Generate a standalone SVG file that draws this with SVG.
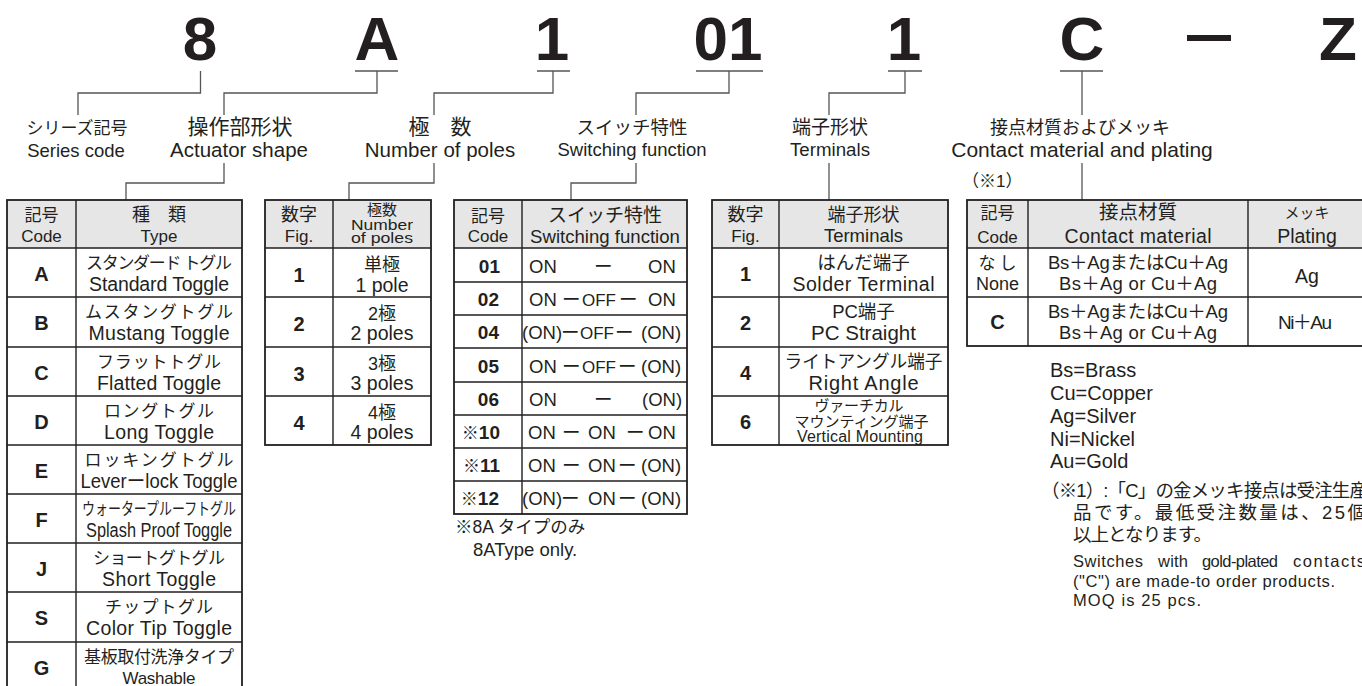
<svg xmlns="http://www.w3.org/2000/svg" width="1362" height="686" viewBox="0 0 1362 686">
<style>
text{font-family:"Liberation Sans","Noto Sans CJK JP",sans-serif;fill:#231f20}
.m{text-anchor:middle}
.e{text-anchor:end}
.b{font-weight:bold}
.big{font-size:62px;font-weight:bold;text-anchor:middle}
.conn{fill:none;stroke:#555;stroke-width:1.3}
.frame{fill:none;stroke:#231f20;stroke-width:1.8}
.ln{stroke:#231f20;stroke-width:1.4;fill:none}
.hd{fill:#e6e6e6}
.h1{font-size:17px}
.code{font-size:20px;font-weight:bold;text-anchor:middle}
.jr{font-size:17px;text-anchor:middle}
.er{font-size:19.5px;text-anchor:middle}
.fn{font-size:18.5px}
.off{font-size:17px}
.sc{font-size:19px;font-weight:bold;text-anchor:end}
</style>

<!-- header code -->
<g id="code-header">
<text class="big" x="200" y="60">8</text>
<text class="big" x="377" y="60">A</text>
<text class="big" x="552" y="60">1</text>
<text class="big" x="728" y="60">01</text>
<text class="big" x="904" y="60">1</text>
<text class="big" x="1082" y="60">C</text>
<text class="big" x="1209" y="54" textLength="44" lengthAdjust="spacingAndGlyphs">—</text>
<text class="big" x="1338" y="60">Z</text>
</g>

<!-- labels -->
<g id="label-series">
<text class="m" x="77" y="134" font-size="17">シリーズ記号</text>
<text class="m" x="76" y="157" font-size="18.5">Series code</text>
</g>
<g id="label-actuator">
<text class="m" x="240" y="134" font-size="21">操作部形状</text>
<text class="m" x="239" y="157" font-size="20.5">Actuator shape</text>
</g>
<g id="label-poles">
<text class="m" x="440" y="134" font-size="21">極　数</text>
<text class="m" x="440" y="157" font-size="20.5">Number of poles</text>
</g>
<g id="label-switching">
<text class="m" x="632" y="134" font-size="18.5">スイッチ特性</text>
<text class="m" x="632" y="156" font-size="18.5">Switching function</text>
</g>
<g id="label-terminals">
<text class="m" x="830" y="134" font-size="19">端子形状</text>
<text class="m" x="830" y="156" font-size="18.7">Terminals</text>
</g>
<g id="label-contact">
<text class="m" x="1080" y="134" font-size="18">接点材質およびメッキ</text>
<text class="m" x="1082" y="157" font-size="21">Contact material and plating</text>
<text x="962" y="187" font-size="17">（※1）</text>
</g>

<!-- connectors -->
<g id="connectors">
<path class="conn" d="M355,71H398M537,71H570M696,71H763M888,71H922M1060,71H1103"/>
<path class="conn" d="M200.5,71V93H78V115"/>
<path class="conn" d="M377,71V93H224V115"/>
<path class="conn" d="M553,71V93H434V115"/>
<path class="conn" d="M729,71V93H636V115"/>
<path class="conn" d="M905,71V93H829V115"/>
<path class="conn" d="M1082,71V115"/>
<path class="conn" d="M224,163V183H126V200"/>
<path class="conn" d="M434,163V183H349V200"/>
<path class="conn" d="M636,163V183H571V200"/>
<path class="conn" d="M829,163V200"/>
<path class="conn" d="M1082,163V200"/>
</g>

<!-- table 1: actuator type -->
<g id="table-actuator">
<rect class="hd" x="7" y="200" width="235" height="48"/>
<path class="ln" d="M76,200V700M7,248H242M7,297H242M7,347H242M7,396H242M7,445H242M7,494H242M7,543H242M7,592H242M7,642H242"/>
<rect class="frame" x="7" y="200" width="235" height="500"/>
<text class="m h1" x="41.5" y="221">記号</text>
<text class="m h1" x="41.5" y="242">Code</text>
<text class="m" x="159" y="221" font-size="18">種　類</text>
<text class="m h1" x="159" y="242">Type</text>

<text class="code" x="41.5" y="281">A</text>
<text class="jr" x="159" y="269" textLength="146">スタンダード トグル</text>
<text class="er" x="159" y="291" textLength="140">Standard Toggle</text>

<text class="code" x="41.5" y="330">B</text>
<text class="jr" x="159" y="318" textLength="148">ムスタングトグル</text>
<text class="er" x="159" y="340" textLength="141">Mustang Toggle</text>

<text class="code" x="41.5" y="380">C</text>
<text class="jr" x="159" y="368" textLength="124">フラットトグル</text>
<text class="er" x="159" y="390" textLength="124">Flatted Toggle</text>

<text class="code" x="41.5" y="429">D</text>
<text class="jr" x="159" y="417" textLength="110">ロングトグル</text>
<text class="er" x="159" y="439" textLength="110">Long Toggle</text>

<text class="code" x="41.5" y="478">E</text>
<text class="jr" x="159" y="466" textLength="149">ロッキングトグル</text>
<text class="er" x="159" y="488" textLength="157" lengthAdjust="spacingAndGlyphs">Leverーlock Toggle</text>

<text class="code" x="41.5" y="527">F</text>
<text class="jr" x="159" y="515" textLength="154" lengthAdjust="spacingAndGlyphs">ウォータープルーフトグル</text>
<text class="er" x="159" y="537" textLength="146" lengthAdjust="spacingAndGlyphs">Splash Proof Toggle</text>

<text class="code" x="41.5" y="576">J</text>
<text class="jr" x="159" y="564" textLength="132">ショートグトグル</text>
<text class="er" x="159" y="586" textLength="114">Short Toggle</text>

<text class="code" x="41.5" y="625">S</text>
<text class="jr" x="159" y="613" textLength="108">チップトグル</text>
<text class="er" x="159" y="635" textLength="146">Color Tip Toggle</text>

<text class="code" x="41.5" y="675">G</text>
<text class="jr" x="159" y="663" textLength="150">基板取付洗浄タイプ</text>
<text class="m" x="159" y="684" font-size="17" textLength="73">Washable</text>
</g>

<!-- table 2: poles -->
<g id="table-poles">
<rect class="hd" x="265" y="200" width="166" height="48"/>
<path class="ln" d="M333,200V445M265,248H431M265,297H431M265,347H431M265,396H431"/>
<rect class="frame" x="265" y="200" width="166" height="245"/>
<text class="m" x="299" y="221" font-size="18">数字</text>
<text class="m h1" x="299" y="242">Fig.</text>
<text class="m" x="382" y="215" font-size="15">極数</text>
<text class="m" x="382" y="230" font-size="15" textLength="62" lengthAdjust="spacingAndGlyphs">Number</text>
<text class="m" x="382" y="243" font-size="15" textLength="62" lengthAdjust="spacingAndGlyphs">of poles</text>

<text class="code" x="299" y="282">1</text>
<text class="m" x="382" y="271" font-size="18">単極</text>
<text class="er" x="382" y="292">1 pole</text>

<text class="code" x="299" y="331">2</text>
<text class="m" x="382" y="320" font-size="18">2極</text>
<text class="er" x="382" y="340">2 poles</text>

<text class="code" x="299" y="381">3</text>
<text class="m" x="382" y="370" font-size="18">3極</text>
<text class="er" x="382" y="390">3 poles</text>

<text class="code" x="299" y="430">4</text>
<text class="m" x="382" y="419" font-size="18">4極</text>
<text class="er" x="382" y="439">4 poles</text>
</g>

<!-- table 3: switching function -->
<g id="table-switching">
<rect class="hd" x="454" y="200" width="233" height="48"/>
<path class="ln" d="M522,200V514M454,248H687M454,282H687M454,315H687M454,348H687M454,382H687M454,415H687M454,448H687M454,481H687"/>
<rect class="frame" x="454" y="200" width="233" height="314"/>
<text class="m h1" x="488" y="222">記号</text>
<text class="m h1" x="488" y="242">Code</text>
<text class="m" x="605" y="222" font-size="19">スイッチ特性</text>
<text class="m" x="605" y="243" font-size="18.6">Switching function</text>

<text class="sc" x="500" y="273">01</text>
<text class="fn" y="273"><tspan x="529">ON</tspan><tspan x="594">ー</tspan><tspan x="648">ON</tspan></text>

<text class="sc" x="499" y="306">02</text>
<text class="fn" y="306"><tspan x="529">ON</tspan><tspan x="562">ー</tspan><tspan class="off" x="582">OFF</tspan><tspan x="619">ー</tspan><tspan x="648">ON</tspan></text>

<text class="sc" x="499" y="339">04</text>
<text class="fn" y="339"><tspan x="522">(ON)</tspan><tspan x="561">ー</tspan><tspan class="off" x="580">OFF</tspan><tspan x="615">ー</tspan><tspan x="641">(ON)</tspan></text>

<text class="sc" x="499" y="373">05</text>
<text class="fn" y="373"><tspan x="529">ON</tspan><tspan x="562">ー</tspan><tspan class="off" x="582">OFF</tspan><tspan x="618">ー</tspan><tspan x="641">(ON)</tspan></text>

<text class="sc" x="499" y="406">06</text>
<text class="fn" y="406"><tspan x="529">ON</tspan><tspan x="594">ー</tspan><tspan x="642">(ON)</tspan></text>

<text class="sc" x="500" y="439"><tspan font-weight="normal" font-size="17">※</tspan>10</text>
<text class="fn" y="439"><tspan x="528">ON</tspan><tspan x="562">ー</tspan><tspan x="588">ON</tspan><tspan x="626">ー</tspan><tspan x="648">ON</tspan></text>

<text class="sc" x="500" y="472"><tspan font-weight="normal" font-size="17">※</tspan>11</text>
<text class="fn" y="472"><tspan x="528">ON</tspan><tspan x="562">ー</tspan><tspan x="588">ON</tspan><tspan x="618">ー</tspan><tspan x="641">(ON)</tspan></text>

<text class="sc" x="499" y="505"><tspan font-weight="normal" font-size="17">※</tspan>12</text>
<text class="fn" y="505"><tspan x="522">(ON)</tspan><tspan x="561">ー</tspan><tspan x="588">ON</tspan><tspan x="618">ー</tspan><tspan x="641">(ON)</tspan></text>

<text x="455" y="533" font-size="17.5">※8A タイプのみ</text>
<text x="473" y="556" font-size="18.5">8AType only.</text>
</g>

<!-- table 4: terminals -->
<g id="table-terminals">
<rect class="hd" x="712" y="200" width="236" height="48"/>
<path class="ln" d="M779,200V445M712,248H948M712,297H948M712,347H948M712,396H948"/>
<rect class="frame" x="712" y="200" width="236" height="245"/>
<text class="m" x="745.5" y="221" font-size="18">数字</text>
<text class="m h1" x="745.5" y="242">Fig.</text>
<text class="m" x="863.5" y="221" font-size="18">端子形状</text>
<text class="m" x="863.5" y="242" font-size="18.5">Terminals</text>

<text class="code" x="745.5" y="281">1</text>
<text class="m" x="863.5" y="269" font-size="18.5">はんだ端子</text>
<text class="er" x="863.5" y="291" textLength="142">Solder Terminal</text>

<text class="code" x="745.5" y="330">2</text>
<text class="m" x="863.5" y="318" font-size="18.5">PC端子</text>
<text class="m" x="863.5" y="340" font-size="20.5">PC Straight</text>

<text class="code" x="745.5" y="380">4</text>
<text class="m" x="863.5" y="368" font-size="18" textLength="158" lengthAdjust="spacingAndGlyphs">ライトアングル端子</text>
<text class="m" x="863.5" y="390" font-size="20" textLength="110">Right Angle</text>

<text class="code" x="745.5" y="429">6</text>
<text class="m" x="859" y="411" font-size="15" textLength="89">ヴァーチカル</text>
<text class="m" x="861.5" y="427" font-size="15" textLength="134">マウンティング端子</text>
<text class="m" x="860" y="442" font-size="16" textLength="126">Vertical Mounting</text>
</g>

<!-- table 5: contact material -->
<g id="table-contact">
<rect class="hd" x="967" y="200" width="401" height="48"/>
<path class="ln" d="M1028,200V346M1248,200V346M967,248H1368M967,297H1368"/>
<rect class="frame" x="967" y="200" width="401" height="146"/>
<text class="m h1" x="997.5" y="219">記号</text>
<text class="m h1" x="997.5" y="243">Code</text>
<text class="m" x="1138" y="219" font-size="19.5">接点材質</text>
<text class="m" x="1138" y="243" font-size="19.5" textLength="147">Contact material</text>
<text class="m" x="1307" y="218" font-size="15">メッキ</text>
<text class="m" x="1307" y="243" font-size="19.5">Plating</text>

<text class="m" x="997.5" y="269" font-size="17" textLength="38">なし</text>
<text class="m" x="997.5" y="290" font-size="18">None</text>
<text class="m" x="1138" y="269" font-size="18.5" textLength="180">Bs＋AgまたはCu＋Ag</text>
<text class="m" x="1138" y="290" font-size="18.5" textLength="158">Bs＋Ag or Cu＋Ag</text>
<text class="m" x="1307" y="283" font-size="19.5">Ag</text>

<text class="code" x="997.5" y="329">C</text>
<text class="m" x="1138" y="318" font-size="18.5" textLength="180">Bs＋AgまたはCu＋Ag</text>
<text class="m" x="1138" y="339" font-size="18.5" textLength="158">Bs＋Ag or Cu＋Ag</text>
<text class="m" x="1305" y="329" font-size="19" textLength="54">Ni＋Au</text>
</g>

<!-- legend and note -->
<g id="legend">
<text x="1050" y="377" font-size="20">Bs=Brass</text>
<text x="1050" y="400" font-size="20">Cu=Copper</text>
<text x="1050" y="423" font-size="20">Ag=Silver</text>
<text x="1050" y="446" font-size="20">Ni=Nickel</text>
<text x="1050" y="468" font-size="20">Au=Gold</text>
</g>
<g id="note">
<text x="1041" y="497" font-size="18.5" textLength="327">（※1）:「C」の金メッキ接点は受注生産</text>
<text x="1073" y="519" font-size="18.5" textLength="293">品です。最低受注数量は、25個</text>
<text x="1073" y="541" font-size="18.5" textLength="139">以上となります。</text>
<text y="567" font-size="16.5"><tspan x="1073" textLength="70">Switches</tspan><tspan x="1158" textLength="30">with</tspan><tspan x="1202" textLength="76">gold-plated</tspan><tspan x="1293" textLength="72">contacts</tspan></text>
<text x="1073" y="587" font-size="16.5" textLength="262">("C") are made-to order products.</text>
<text x="1073" y="606" font-size="16.5" textLength="128">MOQ is 25 pcs.</text>
</g>
</svg>
